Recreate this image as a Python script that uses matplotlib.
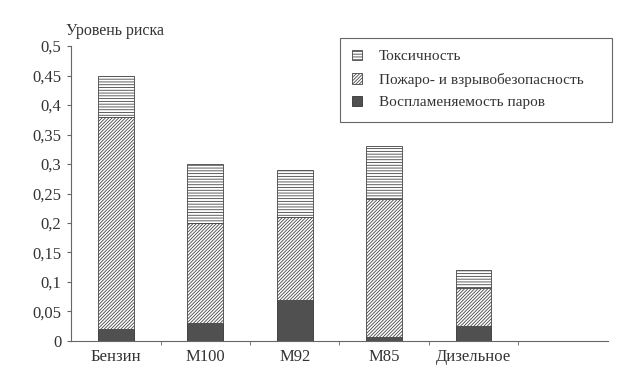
import matplotlib
matplotlib.use("Agg")
import matplotlib.pyplot as plt
from matplotlib.patches import Rectangle
import numpy as np

plt.rcParams["font.family"] = ["Liberation Serif", "DejaVu Serif"]
plt.rcParams["hatch.linewidth"] = 0.6

fuels = ["Бензин", "М100", "М92", "М85", "Дизельное"]
vapour = [0.02, 0.03, 0.07, 0.007, 0.025]      # Воспламеняемость паров
fire = [0.36, 0.17, 0.14, 0.233, 0.065]        # Пожаро- и взрывобезопасность
toxic = [0.07, 0.10, 0.08, 0.09, 0.03]         # Токсичность
yticks = [0, 0.05, 0.1, 0.15, 0.2, 0.25, 0.3, 0.35, 0.4, 0.45, 0.5]

W, H = 641, 375
fig = plt.figure(figsize=(W / 100, H / 100), dpi=100)
ax = fig.add_axes([0.111, 0.091, 0.837, 0.786])

x = np.arange(len(fuels))
w = 0.4
ax.bar(x, vapour, w, color="#505050", edgecolor="#333333", linewidth=0.6,
       label="Воспламеняемость паров")
ax.bar(x, fire, w, bottom=vapour, color="white", edgecolor="#444444",
       hatch="//////////", linewidth=0.6, label="Пожаро- и взрывобезопасность")
bot2 = np.array(vapour) + np.array(fire)
ax.bar(x, toxic, w, bottom=bot2, color="white", edgecolor="#444444",
       hatch="------", linewidth=0.6, label="Токсичность")

ax.set_xlim(-0.5, 5.5)
ax.set_ylim(0, 0.5)
ax.set_xticks(x)
ax.set_xticklabels(fuels, fontsize=12, color="#333333")
ax.tick_params(axis="x", length=0, pad=6)
ax.set_xticks(np.arange(0.5, 5.5, 1), minor=True)
ax.tick_params(axis="x", which="minor", length=3, color="#666666")
ax.set_yticks(yticks)
ax.set_yticklabels([("%g" % v).replace(".", ",") for v in yticks],
                   fontsize=12, color="#333333")
ax.tick_params(axis="y", length=3, color="#666666", pad=4)
for s in ("top", "right"):
    ax.spines[s].set_visible(False)
for s in ("left", "bottom"):
    ax.spines[s].set_color("#666666")
    ax.spines[s].set_linewidth(0.8)

fig.text(66 / W, 1 - 35 / H, "Уровень риска", fontsize=11.5, color="#333333")

# legend frame drawn separately to get the wide right margin of the original
fig.patches.append(Rectangle((340 / W, 1 - 122 / H), 272 / W, 84 / H,
                             transform=fig.transFigure, fill=False,
                             edgecolor="#666666", linewidth=0.8))
h, l = ax.get_legend_handles_labels()
leg = fig.legend(h[::-1], l[::-1], loc="upper left",
                 bbox_to_anchor=(338 / W, 1 - 36 / H),
                 fontsize=11, frameon=False,
                 handlelength=0.7, handleheight=0.7, handletextpad=1.1,
                 borderpad=0.4, labelspacing=0.6, labelcolor="#333333")

fig.savefig("out.png", dpi=100)
